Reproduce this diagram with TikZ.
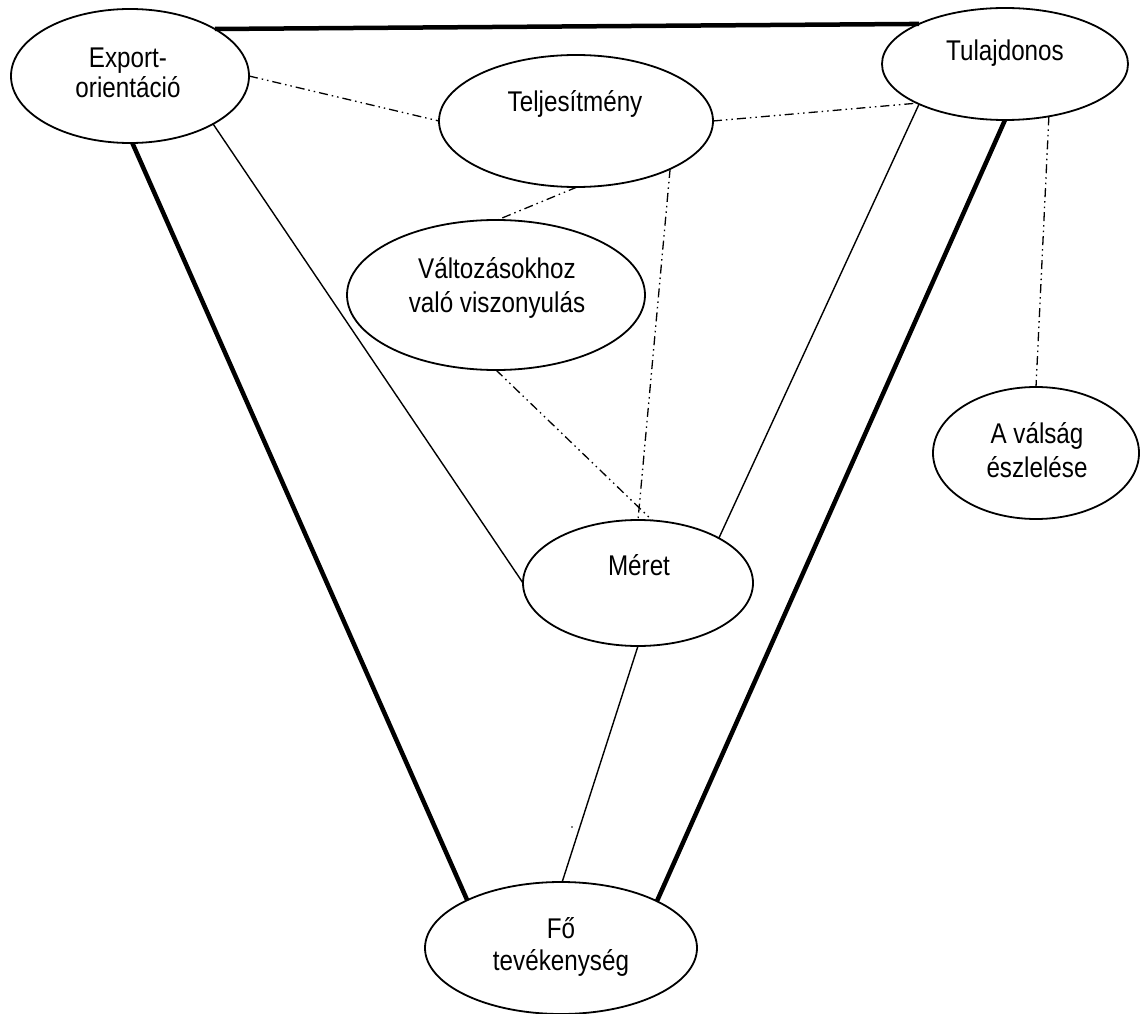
\documentclass[tikz,border=0pt]{standalone}
\usepackage{fontspec}
\setmainfont[FakeStretch=0.85]{Liberation Sans}
\usetikzlibrary{shapes.geometric}
\begin{document}
\begin{tikzpicture}[x=1pt,y=-1pt,
  ell/.style={draw, ellipse, line width=1.8pt, inner sep=0pt, outer sep=0pt},
  lbl/.style={anchor=base, inner sep=0pt, font=\fontsize{28.5}{33}\selectfont},
  strong/.style={line width=4.5pt},
  thinl/.style={line width=1.4pt},
  dd/.style={line width=1.3pt, dash pattern=on 9pt off 4pt on 1.5pt off 4pt on 1.5pt off 4pt}]
\useasboundingbox (0,0) rectangle (1141,1014);

% ellipses
\node[ell, minimum width=238pt, minimum height=134pt] (exp) at (130,76) {};
\node[ell, minimum width=246pt, minimum height=112pt] (tul) at (1005,64) {};
\node[ell, minimum width=274pt, minimum height=132pt] (tel) at (576,121) {};
\node[ell, minimum width=298pt, minimum height=150pt] (val) at (496,295) {};
\node[ell, minimum width=206pt, minimum height=132pt] (vals) at (1036,453) {};
\node[ell, minimum width=230pt, minimum height=126pt] (mer) at (638,583) {};
\node[ell, minimum width=272pt, minimum height=132pt] (fo) at (561,948) {};

% labels
\node[lbl] (expT) at (128,68) {\begin{tabular}[t]{@{}c@{}}Export-\\[-3pt]orientáció\end{tabular}};
\node[lbl] (tulT) at (1005,61) {Tulajdonos};
\node[lbl] (telT) at (575,112) {Teljesítmény};
\node[lbl] (valT) at (497,278) {\begin{tabular}[t]{@{}c@{}}Változásokhoz\\[1pt]való viszonyulás\end{tabular}};
\node[lbl] (valsT) at (1037,443) {\begin{tabular}[t]{@{}c@{}}A válság\\[1pt]észlelése\end{tabular}};
\node[lbl] (merT) at (639,575) {Méret};
\node[lbl] (foT) at (561,938) {\begin{tabular}[t]{@{}c@{}}Fő\\[-1pt]tevékenység\end{tabular}};

% thick connectors
\draw[strong] (exp.29.5) -- (tul.155.9);
\draw[strong] (exp.272) -- (fo.153.9);
\draw[strong] (tul.270) -- (fo.26.6);

% thin connectors
\draw[thinl] (exp.330) -- (mer.180);
\draw[thinl] (tul.205) -- (mer.29.3);
\draw[thinl] (mer.270) -- (fo.89);

% dash-dot connectors
\draw[dd] (exp.east) -- (tel.west);
\draw[dd] (tel.east) -- (tul.204);
\draw[dd] (tel.271) -- (val.89);
\draw[dd] (tel.333.9) -- (mer.90);
\draw[dd] (val.270) -- (mer.77.5);
\draw[dd] (tul.310.6) -- (vals.90);

% stray dot
\fill (572,827) circle (0.9);
\end{tikzpicture}
\end{document}
